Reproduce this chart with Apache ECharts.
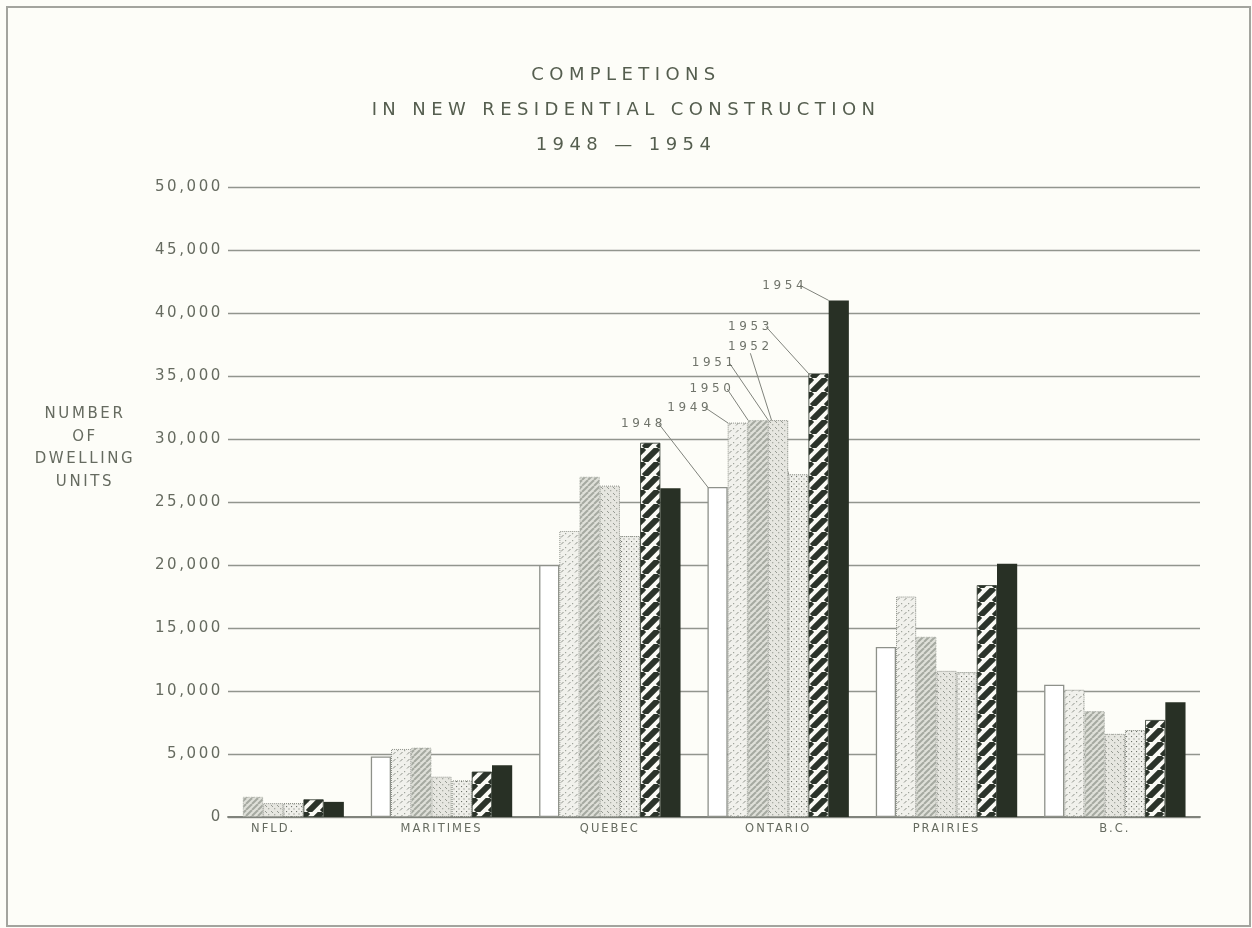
<!DOCTYPE html>
<html>
<head>
<meta charset="utf-8">
<script src="https://cdn.jsdelivr.net/npm/echarts@6/dist/echarts.min.js"></script>
<style>html,body{margin:0;padding:0;background:#fdfdf8;}#c{width:1252px;height:928px;}</style>
</head>
<body>
<div id="c"></div>
<script>
// ---- data ----
const categories = ['NFLD.', 'MARITIMES', 'QUEBEC', 'ONTARIO', 'PRAIRIES', 'B.C.'];
const years = ['1948', '1949', '1950', '1951', '1952', '1953', '1954'];
const v1948 = [null, 4800, 20000, 26200, 13500, 10500];
const v1949 = [null, 5400, 22700, 31300, 17500, 10100];
const v1950 = [1600, 5500, 27000, 31500, 14300, 8400];
const v1951 = [1100, 3200, 26300, 31500, 11600, 6600];
const v1952 = [1100, 2900, 22300, 27200, 11500, 6900];
const v1953 = [1400, 3600, 29700, 35200, 18400, 7700];
const v1954 = [1200, 4100, 26100, 41000, 20100, 9100];
const yTickStep = 5000;
const yMax = 50000;
const annotatedCategory = 'ONTARIO';

// ---- letter spacing (the original lettering is widely spaced) ----
const spacingBySize = {'18': 5.4, '15': 2.6, '11.5': 2.0, '12': 3.6};
(function () {
  const P = CanvasRenderingContext2D.prototype;
  const orig = P.fillText;
  P.fillText = function (t, x, y, m) {
    const mm = /([\d.]+)px/.exec(this.font || '');
    const sp = mm ? spacingBySize[String(parseFloat(mm[1]))] : undefined;
    if (sp !== undefined && 'letterSpacing' in this) {
      const prev = this.letterSpacing;
      this.letterSpacing = sp + 'px';
      const r = m === undefined ? orig.call(this, t, x, y) : orig.call(this, t, x, y, m);
      this.letterSpacing = prev;
      return r;
    }
    return m === undefined ? orig.call(this, t, x, y) : orig.call(this, t, x, y, m);
  };
})();

// ---- patterns ----
function tile(size, draw) {
  const c = document.createElement('canvas');
  c.width = size; c.height = size;
  const g = c.getContext('2d');
  draw(g, size);
  return {image: c, repeat: 'repeat'};
}
const pat1949 = tile(7, (g, s) => {
  g.fillStyle = '#f1f1ec'; g.fillRect(0, 0, s, s);
  g.strokeStyle = '#8f938b'; g.lineWidth = 1;
  g.beginPath(); g.moveTo(1, 5.5); g.lineTo(3.5, 3); g.stroke();
  g.fillStyle = '#a0a49c'; g.fillRect(5, 1, 1.2, 1.2);
});
const pat1950 = tile(6, (g, s) => {
  g.fillStyle = '#dfe0d9'; g.fillRect(0, 0, s, s);
  g.strokeStyle = '#a6a9a1'; g.lineWidth = 2;
  for (const k of [-s, 0, s]) { g.beginPath(); g.moveTo(k, s); g.lineTo(k + s, 0); g.stroke(); }
});
const pat1951 = tile(6, (g, s) => {
  g.fillStyle = '#e6e6e0'; g.fillRect(0, 0, s, s);
  g.strokeStyle = '#959991'; g.lineWidth = 1;
  g.beginPath(); g.moveTo(1, 1); g.lineTo(3, 3); g.stroke();
  g.fillStyle = '#a9aca4'; g.fillRect(4, 4, 1.3, 1.3);
});
const pat1952 = tile(5, (g, s) => {
  g.fillStyle = '#efefea'; g.fillRect(0, 0, s, s);
  g.fillStyle = '#6f736b';
  g.fillRect(1, 1, 1.1, 1.1); g.fillRect(3.5, 3.5, 1, 1);
});
const pat1953 = tile(14, (g, s) => {
  g.fillStyle = '#fafaf5'; g.fillRect(0, 0, s, s);
  g.strokeStyle = '#2b332a'; g.lineWidth = 6;
  for (const k of [-s, 0, s]) { g.beginPath(); g.moveTo(k, s); g.lineTo(k + s, 0); g.stroke(); }
});

const seriesValues = [v1948, v1949, v1950, v1951, v1952, v1953, v1954];
const fills = ['#ffffff', pat1949, pat1950, pat1951, pat1952, pat1953, '#283025'];
const borders = [
  {borderColor: '#8e918a', borderWidth: 1.3, borderType: 'solid'},
  {borderColor: '#8e918a', borderWidth: 1, borderType: 'dotted'},
  {borderColor: '#9ea19a', borderWidth: 0.8, borderType: 'dotted'},
  {borderColor: '#8e918a', borderWidth: 1, borderType: 'dotted'},
  {borderColor: '#7d8179', borderWidth: 1, borderType: 'dotted'},
  {borderColor: '#2b332a', borderWidth: 0.8, borderType: 'solid'},
  {borderColor: '#283025', borderWidth: 0, borderType: 'solid'}
];
// label offsets (dx, dy) for the year annotations above the Ontario bars
const annotOffsets = [[-74, -52], [-48, -4], [-46, -20], [-64, -46], [-48, -116], [-68, -36], [-54, -4]];

const textColor = '#666b60';
const annIdx = categories.indexOf(annotatedCategory);

const series = seriesValues.map((vals, si) => ({
  name: years[si],
  type: 'bar',
  xAxisIndex: 1,
  yAxisIndex: 1,
  barGap: '0%',
  barCategoryGap: '16%',
  itemStyle: Object.assign({color: fills[si]}, borders[si]),
  label: {
    show: false, position: 'top', formatter: '{a}',
    color: '#70746b', fontSize: 12, fontFamily: 'DejaVu Sans'
  },
  labelLine: {show: true, lineStyle: {color: '#80837c', width: 1}},
  labelLayout: function (p) {
    if (p.dataIndex !== annIdx) return null;
    return {dx: annotOffsets[si][0], dy: annotOffsets[si][1]};
  },
  data: vals.map((v, i) => i === annIdx ? {value: v, label: {show: true}} : v),
  z: 3
}));

const chart = echarts.init(document.getElementById('c'), null, {renderer: 'canvas'});
chart.setOption({
  backgroundColor: '#fdfdf8',
  animation: false,
  title: [
    {text: 'COMPLETIONS', left: 'center', top: 61,
     textStyle: {fontFamily: 'DejaVu Sans', fontSize: 18, fontWeight: 'normal', color: '#555e4f'}},
    {text: 'IN NEW RESIDENTIAL CONSTRUCTION', left: 'center', top: 96,
     textStyle: {fontFamily: 'DejaVu Sans', fontSize: 18, fontWeight: 'normal', color: '#555e4f'}},
    {text: '1948 — 1954', left: 'center', top: 131,
     textStyle: {fontFamily: 'DejaVu Sans', fontSize: 18, fontWeight: 'normal', color: '#555e4f'}},
    {text: 'NUMBER\nOF\nDWELLING\nUNITS', left: 80, top: 398, textAlign: 'center',
     textStyle: {fontFamily: 'DejaVu Sans', fontSize: 15, fontWeight: 'normal', color: textColor, lineHeight: 22.5, align: 'center'}}
  ],
  grid: [
    {left: 228, right: 52, top: 187, bottom: 111},
    {left: 189, right: 53, top: 187, bottom: 111}
  ],
  xAxis: [
    {gridIndex: 0, type: 'value', min: 0, max: 1, show: true,
     axisLine: {show: true, lineStyle: {color: '#80837c', width: 1.8}},
     axisTick: {show: false}, axisLabel: {show: false}, splitLine: {show: false}},
    {gridIndex: 1, type: 'category', data: categories,
     axisLine: {show: false}, axisTick: {show: false},
     axisLabel: {color: textColor, fontSize: 11.5, fontFamily: 'DejaVu Sans', margin: 6}}
  ],
  yAxis: [
    {gridIndex: 0, type: 'value', min: 0, max: yMax, interval: yTickStep,
     axisLine: {show: false}, axisTick: {show: false},
     axisLabel: {color: textColor, fontSize: 15, fontFamily: 'DejaVu Sans', margin: 5,
       formatter: v => v.toLocaleString('en-US')},
     splitLine: {show: true, lineStyle: {color: '#92958e', width: 1.3}}},
    {gridIndex: 1, type: 'value', min: 0, max: yMax, interval: yTickStep, show: false,
     splitLine: {show: false}}
  ],
  graphic: [
    {type: 'rect', shape: {x: 7, y: 7, width: 1243, height: 919}, silent: true,
     style: {fill: null, stroke: '#a3a49e', lineWidth: 2}, z: 0}
  ],
  series: series
});
</script>
</body>
</html>
